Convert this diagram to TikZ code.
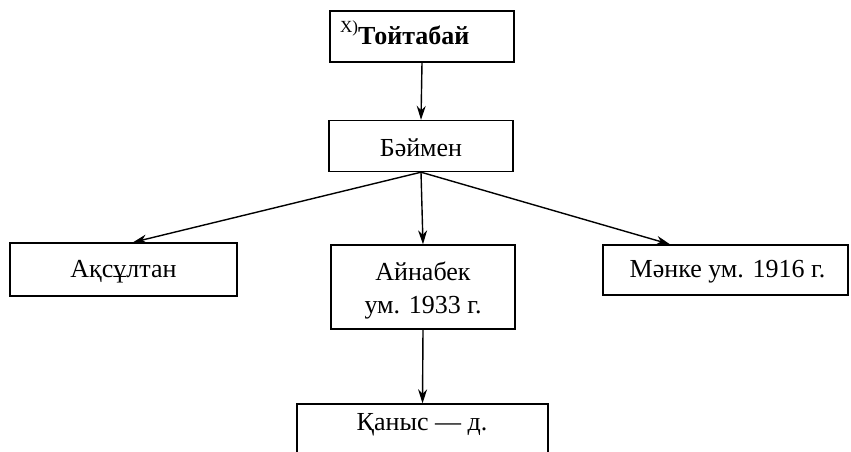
\documentclass[tikz,border=0pt]{standalone}
\usepackage{fontspec}
\setmainfont{Liberation Serif}
\usetikzlibrary{arrows.meta}
\begin{document}
\begin{tikzpicture}[x=1pt,y=-1pt,
  box/.style={draw, line width=1.4pt, inner sep=0pt, align=center,
    font=\fontsize{26}{33}\selectfont},
  lbl/.style={inner sep=0pt, align=center, font=\fontsize{26}{33}\selectfont},
  conn/.style={line width=1.4pt, -{Stealth[length=14pt,width=9pt]}}]
\useasboundingbox (0,0) rectangle (851,452);
\clip (0,0) rectangle (851,452);
\node[box, minimum width=184pt, minimum height=51pt] (t) at (422,36.5) {};
\node[lbl, anchor=base west] (tt) at (340,45) {\raisebox{12pt}{\fontsize{17}{17}\selectfont X)}\textbf{Тойтабай}};
\node[box, minimum width=184pt, minimum height=51pt] (b) at (421,146) {};
\node[lbl] (bt) at (421,148) {Бәймен};
\node[box, minimum width=227pt, minimum height=53pt] (a) at (123.5,269.5) {};
\node[lbl] (at) at (123.5,272) {Ақсұлтан};
\node[box, minimum width=184pt, minimum height=84pt] (n) at (423,287) {};
\node[lbl] (nt) at (423,290) {Айнабек\\ум. 1933 г.};
\node[box, minimum width=245pt, minimum height=50pt] (m) at (725.5,270) {};
\node[lbl] (mt) at (727.5,272) {Мәнке ум. 1916 г.};
\node[box, minimum width=251pt, minimum height=70pt] (k) at (422.5,439) {};
\node[lbl] (kt) at (422,425) {Қаныс — д.};
\draw[conn] (t.south) -- (b.north);
\draw[conn] (b.south) -- (a.north -| 133,0);
\draw[conn] (b.south) -- (n.north);
\draw[conn] (b.south) -- (m.north -| 670,0);
\draw[conn] (n.south) -- (k.north);
\end{tikzpicture}
\end{document}
